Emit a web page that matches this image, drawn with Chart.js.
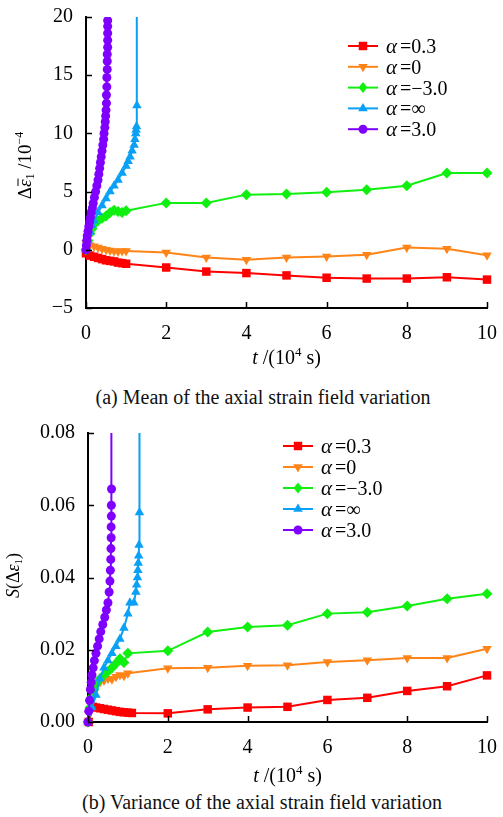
<!DOCTYPE html>
<html>
<head>
<meta charset="utf-8">
<script src="https://cdn.jsdelivr.net/npm/chart.js@4.4.1/dist/chart.umd.min.js"></script>
<style>
body { margin: 0; background: #fff; width: 503px; height: 817px; position: relative; overflow: hidden; font-family: 'Liberation Serif', serif; }
canvas { position: absolute; left: 0; }
.cap { position: absolute; font-size: 20px; white-space: nowrap; transform: translateX(-50%); color: #111; }
</style>
</head>
<body>
<canvas id="chartA" width="503" height="380" style="top:0"></canvas>
<div class="cap" style="left:263px;top:386px">(a) Mean of the axial strain field variation</div>
<canvas id="chartB" width="503" height="380" style="top:410px"></canvas>
<div class="cap" style="left:262px;top:791px">(b) Variance of the axial strain field variation</div>
<script>
// series: α = 0.3, 0, -3.0, ∞, 3.0
const seriesLabels = ['=0.3', '=0', '=\u22123.0', '=\u221e', '=3.0'];
const seriesColors = ['#ff0000', '#ff8418', '#10f010', '#0aa0f5', '#8000ff'];
const seriesStyles = ['rect', 'triangle', 'rectRot', 'triangle', 'circle'];
const seriesRotation = [0, 180, 0, 0, 0];
const seriesRadius = [6, 5.5, 5.5, 5.5, 4.5];

// (a) mean of axial strain variation, 10^-4
const meanT03 = [0, 0.1, 0.2, 0.3, 0.4, 0.5, 0.6, 0.7, 0.8, 0.9, 1, 2, 3, 4, 5, 6, 7, 8, 9, 10];
const meanV03 = [-0.3, -0.5, -0.6, -0.7, -0.8, -0.9, -0.95, -1.0, -1.1, -1.15, -1.2, -1.52, -1.87, -2.0, -2.2, -2.4, -2.47, -2.47, -2.36, -2.56];
const meanT0 = [0, 0.05, 0.1, 0.2, 0.3, 0.4, 0.5, 0.6, 0.7, 0.8, 0.9, 1, 2, 3, 4, 5, 6, 7, 8, 9, 10];
const meanV0 = [0.6, 0.5, 0.4, 0.3, 0.2, 0.1, 0.0, -0.05, -0.1, -0.15, -0.1, -0.1, -0.23, -0.66, -0.86, -0.66, -0.57, -0.43, 0.2, 0.09, -0.46];
const meanTm3 = [0, 0.05, 0.1, 0.15, 0.2, 0.3, 0.4, 0.5, 0.6, 0.7, 0.8, 0.9, 1, 2, 3, 4, 5, 6, 7, 8, 9, 10];
const meanVm3 = [0, 0.8, 1.4, 1.8, 2.2, 2.5, 2.7, 2.9, 3.2, 3.4, 3.3, 3.2, 3.35, 4.03, 4.03, 4.74, 4.8, 4.94, 5.15, 5.5, 6.6, 6.6];
const meanTinf = [0, 0.05, 0.1, 0.15, 0.2, 0.3, 0.4, 0.5, 0.6, 0.7, 0.8, 0.9, 1.0, 1.05, 1.1, 1.15, 1.2, 1.22, 1.24, 1.25, 1.26, 1.27, 1.27];
const meanVinf = [0, 0.8, 1.5, 2.1, 2.5, 3.2, 3.8, 4.4, 5.0, 5.5, 6.0, 6.6, 7.2, 7.6, 8.0, 8.5, 9.0, 9.5, 10.0, 10.3, 10.6, 12.4, 40];
const meanT3 = [0, 0.01, 0.02, 0.03, 0.05, 0.07, 0.09, 0.11, 0.13, 0.16, 0.18, 0.21, 0.24, 0.27, 0.3, 0.32, 0.34, 0.36, 0.38, 0.4, 0.42, 0.44, 0.45, 0.47, 0.48, 0.49, 0.5, 0.51, 0.51, 0.52, 0.52, 0.53, 0.53, 0.53, 0.54, 0.54, 0.54, 0.54, 0.54];
const meanV3 = [0, 0.4, 0.8, 1.2, 1.6, 2.0, 2.4, 2.8, 3.2, 3.6, 4.0, 4.5, 5.0, 5.5, 6.0, 6.5, 7.0, 7.5, 8.0, 8.5, 9.0, 9.5, 10.0, 10.5, 11.0, 11.5, 12.0, 12.6, 13.3, 14.0, 14.8, 15.5, 16.2, 16.8, 17.4, 18.0, 18.6, 19.2, 19.7];

// (b) variance of axial strain variation
const varT03 = [0.02, 0.12, 0.2, 0.3, 0.4, 0.5, 0.6, 0.7, 0.8, 0.9, 1.0, 1.1, 2, 3, 4, 5, 6, 7, 8, 9, 10];
const varV03 = [0, 0.0042, 0.004, 0.0038, 0.0036, 0.0034, 0.0032, 0.003, 0.0028, 0.0027, 0.0026, 0.0025, 0.0024, 0.0035, 0.004, 0.0042, 0.0061, 0.0067, 0.0086, 0.0099, 0.0129];
const varT0 = [0, 0.05, 0.1, 0.15, 0.2, 0.3, 0.4, 0.5, 0.6, 0.7, 0.8, 0.9, 1.0, 2, 3, 4, 5, 6, 7, 8, 9, 10];
const varV0 = [0, 0.005, 0.009, 0.0105, 0.0108, 0.011, 0.0115, 0.012, 0.0118, 0.0125, 0.013, 0.0128, 0.0135, 0.0149, 0.015, 0.0156, 0.0157, 0.0166, 0.0171, 0.0177, 0.0177, 0.0203];
const varTm3 = [0, 0.05, 0.1, 0.15, 0.2, 0.3, 0.4, 0.5, 0.6, 0.7, 0.8, 0.9, 1.0, 2, 3, 4, 5, 6, 7, 8, 9, 10];
const varVm3 = [0, 0.004, 0.007, 0.009, 0.0105, 0.012, 0.013, 0.014, 0.015, 0.0162, 0.0175, 0.0165, 0.019, 0.0197, 0.0249, 0.0263, 0.0268, 0.030, 0.0304, 0.0321, 0.0341, 0.0355];
const varTinf = [0, 0.1, 0.2, 0.3, 0.4, 0.5, 0.6, 0.7, 0.8, 0.9, 1.0, 1.05, 1.15, 1.2, 1.22, 1.24, 1.25, 1.26, 1.27, 1.28, 1.29, 1.29];
const varVinf = [0, 0.004, 0.0075, 0.012, 0.015, 0.017, 0.019, 0.021, 0.023, 0.026, 0.030, 0.033, 0.033, 0.036, 0.038, 0.040, 0.042, 0.044, 0.046, 0.049, 0.058, 0.2];
const varT3 = [0, 0.02, 0.04, 0.06, 0.08, 0.1, 0.13, 0.16, 0.2, 0.24, 0.28, 0.32, 0.37, 0.42, 0.46, 0.5, 0.53, 0.55, 0.56, 0.57, 0.575, 0.58, 0.58, 0.585, 0.585, 0.59, 0.59];
const varV3 = [0, 0.003, 0.006, 0.009, 0.011, 0.013, 0.015, 0.017, 0.019, 0.021, 0.023, 0.025, 0.027, 0.029, 0.031, 0.033, 0.036, 0.039, 0.042, 0.045, 0.048, 0.051, 0.054, 0.057, 0.06, 0.0645, 0.2];

const xTicks = [0, 2, 4, 6, 8, 10];
const meanTicks = [-5, 0, 5, 10, 15, 20];
const varTicks = [0, 0.02, 0.04, 0.06, 0.08];

const FONT = "'Liberation Serif', 'Times New Roman', serif";
const drawOrder = [5, 4, 3, 2, 1];

function makeSets(ts, vs) {
    return ts.map((t, i) => ({
        label: '\u03b1' + seriesLabels[i],
        data: t.map((x, j) => ({ x: x, y: vs[i][j] })),
        borderColor: seriesColors[i],
        backgroundColor: seriesColors[i],
        pointBackgroundColor: seriesColors[i],
        pointBorderColor: seriesColors[i],
        pointStyle: seriesStyles[i],
        rotation: seriesRotation[i],
        pointRadius: seriesRadius[i],
        pointBorderWidth: 0,
        borderWidth: 2,
        tension: 0,
        order: drawOrder[i],
        clip: { left: 8, right: 8, bottom: 8, top: 0 }
    }));
}

function drawRuns(ctx, runs, cx, baseY) {
    let total = 0;
    runs.forEach(r => { ctx.font = r.f; r.w = ctx.measureText(r.t).width; total += r.w + (r.gap || 0); });
    let x = cx - total / 2;
    runs.forEach(r => {
        ctx.font = r.f;
        ctx.fillText(r.t, x, baseY + (r.dy || 0));
        if (r.bar) {
            ctx.beginPath();
            ctx.lineWidth = 1;
            ctx.moveTo(x + 1, baseY - 13);
            ctx.lineTo(x + r.w + 1, baseY - 13);
            ctx.stroke();
        }
        x += r.w + (r.gap || 0);
    });
}

function drawMarker(ctx, i, x, y) {
    const r = seriesRadius[i];
    ctx.fillStyle = seriesColors[i];
    ctx.beginPath();
    const st = seriesStyles[i];
    if (st === 'rect') {
        const s = r * Math.SQRT1_2;
        ctx.rect(x - s, y - s, 2 * s, 2 * s);
    } else if (st === 'rectRot') {
        const s = r;
        ctx.moveTo(x, y - s); ctx.lineTo(x + s * 0.8, y); ctx.lineTo(x, y + s); ctx.lineTo(x - s * 0.8, y);
        ctx.closePath();
    } else if (st === 'triangle') {
        const dir = seriesRotation[i] === 180 ? -1 : 1;
        ctx.moveTo(x, y - dir * r);
        ctx.lineTo(x + r * 0.87, y + dir * r * 0.5);
        ctx.lineTo(x - r * 0.87, y + dir * r * 0.5);
        ctx.closePath();
    } else {
        ctx.arc(x, y, r, 0, Math.PI * 2);
    }
    ctx.fill();
}

const decoPlugin = {
    id: 'deco',
    afterDraw(chart, args, opts) {
        const ctx = chart.ctx, area = chart.chartArea;
        const xs = chart.scales.x, ys = chart.scales.y;
        ctx.save();
        // inward tick marks
        ctx.strokeStyle = '#000';
        ctx.lineWidth = 1.5;
        ys.ticks.forEach(t => {
            const p = Math.round(ys.getPixelForValue(t.value)) + 0.5;
            ctx.beginPath(); ctx.moveTo(area.left, p); ctx.lineTo(area.left + 6, p); ctx.stroke();
        });
        xs.ticks.forEach(t => {
            const p = Math.round(xs.getPixelForValue(t.value)) + 0.5;
            ctx.beginPath(); ctx.moveTo(p, area.bottom); ctx.lineTo(p, area.bottom - 6); ctx.stroke();
        });
        // legend
        const lg = opts.legend;
        ctx.textBaseline = 'alphabetic';
        seriesLabels.forEach((lab, i) => {
            const y = lg.y + i * lg.dy;
            ctx.strokeStyle = seriesColors[i];
            ctx.lineWidth = 2;
            ctx.beginPath(); ctx.moveTo(lg.x, y); ctx.lineTo(lg.x + 30, y); ctx.stroke();
            drawMarker(ctx, i, lg.x + 15, y);
            ctx.fillStyle = '#000';
            ctx.font = 'italic 21px ' + FONT;
            ctx.fillText('\u03b1', lg.x + 38, y + 7);
            const w = ctx.measureText('\u03b1').width;
            ctx.font = '20px ' + FONT;
            ctx.fillText(lab, lg.x + 38 + w + 3, y + 7);
        });
        // axis titles
        ctx.fillStyle = '#000';
        ctx.strokeStyle = '#000';
        ctx.textAlign = 'left';
        drawRuns(ctx, opts.xTitle, (area.left + area.right) / 2, opts.xTitleY);
        ctx.translate(opts.yTitleX, (area.top + area.bottom) / 2 + opts.yTitleShift);
        ctx.rotate(-Math.PI / 2);
        drawRuns(ctx, opts.yTitle, 0, 7);
        ctx.restore();
    }
};

function baseOptions(yMin, yMax, yTicks, fmt, leftW, rightPad, topPad, xH) {
    return {
        responsive: false,
        animation: false,
        events: [],
        layout: { padding: { left: 0, right: rightPad, top: topPad, bottom: 0 } },
        plugins: { legend: { display: false }, tooltip: { enabled: false } },
        scales: {
            x: {
                type: 'linear', min: 0, max: 10,
                afterBuildTicks: s => { s.ticks = xTicks.map(v => ({ value: v })); },
                afterFit: s => { s.height = xH; },
                grid: { display: false },
                border: { display: true, color: '#000', width: 2 },
                ticks: { color: '#000', padding: 6, font: { family: FONT, size: 20 }, maxRotation: 0 }
            },
            y: {
                type: 'linear', min: yMin, max: yMax,
                afterBuildTicks: s => { s.ticks = yTicks.map(v => ({ value: v })); },
                afterFit: s => { s.width = leftW; },
                grid: { display: false },
                border: { display: true, color: '#000', width: 2 },
                ticks: { color: '#000', padding: 5, font: { family: FONT, size: 20 }, callback: fmt }
            }
        }
    };
}

const optsA = baseOptions(-5, 20, meanTicks, v => String(v).replace('-', '\u2212'), 86, 13, 17, 72);
optsA.plugins.deco = {
    legend: { x: 348, y: 46, dy: 20.8 },
    xTitle: [
        { t: 't', f: 'italic 20px ' + FONT },
        { t: ' /(10', f: '20px ' + FONT },
        { t: '4', f: '13px ' + FONT, dy: -8 },
        { t: ' s)', f: '20px ' + FONT }
    ],
    xTitleY: 364,
    yTitle: [
        { t: '\u0394', f: '19px ' + FONT },
        { t: '\u03b5', f: 'italic 19px ' + FONT, bar: true },
        { t: '1', f: '12px ' + FONT, dy: 3 },
        { t: ' /10', f: '19px ' + FONT },
        { t: '\u22124', f: '12px ' + FONT, dy: -8 }
    ],
    yTitleX: 24,
    yTitleShift: 3
};

new Chart(document.getElementById('chartA'), {
    type: 'line',
    data: { datasets: makeSets([meanT03, meanT0, meanTm3, meanTinf, meanT3], [meanV03, meanV0, meanVm3, meanVinf, meanV3]) },
    options: optsA,
    plugins: [decoPlugin]
});

const optsB = baseOptions(0, 0.08, varTicks, v => Number(v).toFixed(2), 88, 11, 23, 68);
optsB.plugins.deco = {
    legend: { x: 283, y: 36, dy: 21 },
    xTitle: [
        { t: 't', f: 'italic 20px ' + FONT },
        { t: ' /(10', f: '20px ' + FONT },
        { t: '4', f: '13px ' + FONT, dy: -8 },
        { t: ' s)', f: '20px ' + FONT }
    ],
    xTitleY: 372,
    yTitle: [
        { t: 'S', f: 'italic 18px ' + FONT },
        { t: '(\u0394', f: '18px ' + FONT },
        { t: '\u03b5', f: 'italic 18px ' + FONT },
        { t: '1', f: '11px ' + FONT, dy: 3 },
        { t: ')', f: '18px ' + FONT }
    ],
    yTitleX: 12,
    yTitleShift: -2
};

new Chart(document.getElementById('chartB'), {
    type: 'line',
    data: { datasets: makeSets([varT03, varT0, varTm3, varTinf, varT3], [varV03, varV0, varVm3, varVinf, varV3]) },
    options: optsB,
    plugins: [decoPlugin]
});
</script>
</body>
</html>
